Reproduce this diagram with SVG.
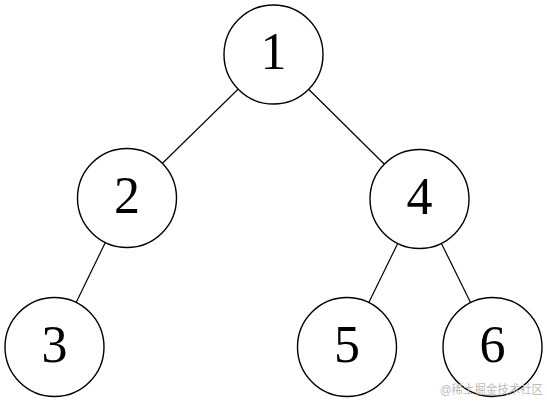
<svg xmlns="http://www.w3.org/2000/svg" width="547" height="401" viewBox="0 0 547 401">
<style>
.n circle{fill:#fff;stroke:#000;stroke-width:1.4}
.n text{font-family:"Liberation Serif","Times New Roman",serif;font-size:52px;fill:#000;text-anchor:middle}
.e line{stroke:#000;stroke-width:1.2}
.wm{font-family:"Liberation Sans","Noto Sans CJK SC",sans-serif;font-size:12px;fill:#bbb}
</style>
<rect width="547" height="401" fill="#fff"/>
<g id="edges" class="e">
<line x1="273.5" y1="54.5" x2="127" y2="198"/>
<line x1="273.5" y1="54.5" x2="419.5" y2="199"/>
<line x1="127" y1="198" x2="54.5" y2="347"/>
<line x1="419.5" y1="199" x2="347" y2="347"/>
<line x1="419.5" y1="199" x2="492.5" y2="347"/>
</g>
<g id="n1" class="n"><circle cx="273.5" cy="54.5" r="49.5"/><text x="273.5" y="69">1</text></g>
<g id="n2" class="n"><circle cx="127" cy="198" r="49.5"/><text x="127" y="213">2</text></g>
<g id="n4" class="n"><circle cx="419.5" cy="199" r="49.5"/><text x="419.5" y="214">4</text></g>
<g id="n3" class="n"><circle cx="54.5" cy="347" r="49.5"/><text x="54.5" y="362">3</text></g>
<g id="n5" class="n"><circle cx="347" cy="347" r="49.5"/><text x="347" y="362">5</text></g>
<g id="n6" class="n"><circle cx="492.5" cy="347" r="49.5"/><text x="492.5" y="362">6</text></g>
<text class="wm" x="440" y="394" textLength="103" lengthAdjust="spacingAndGlyphs">@稀土掘金技术社区</text>
</svg>
